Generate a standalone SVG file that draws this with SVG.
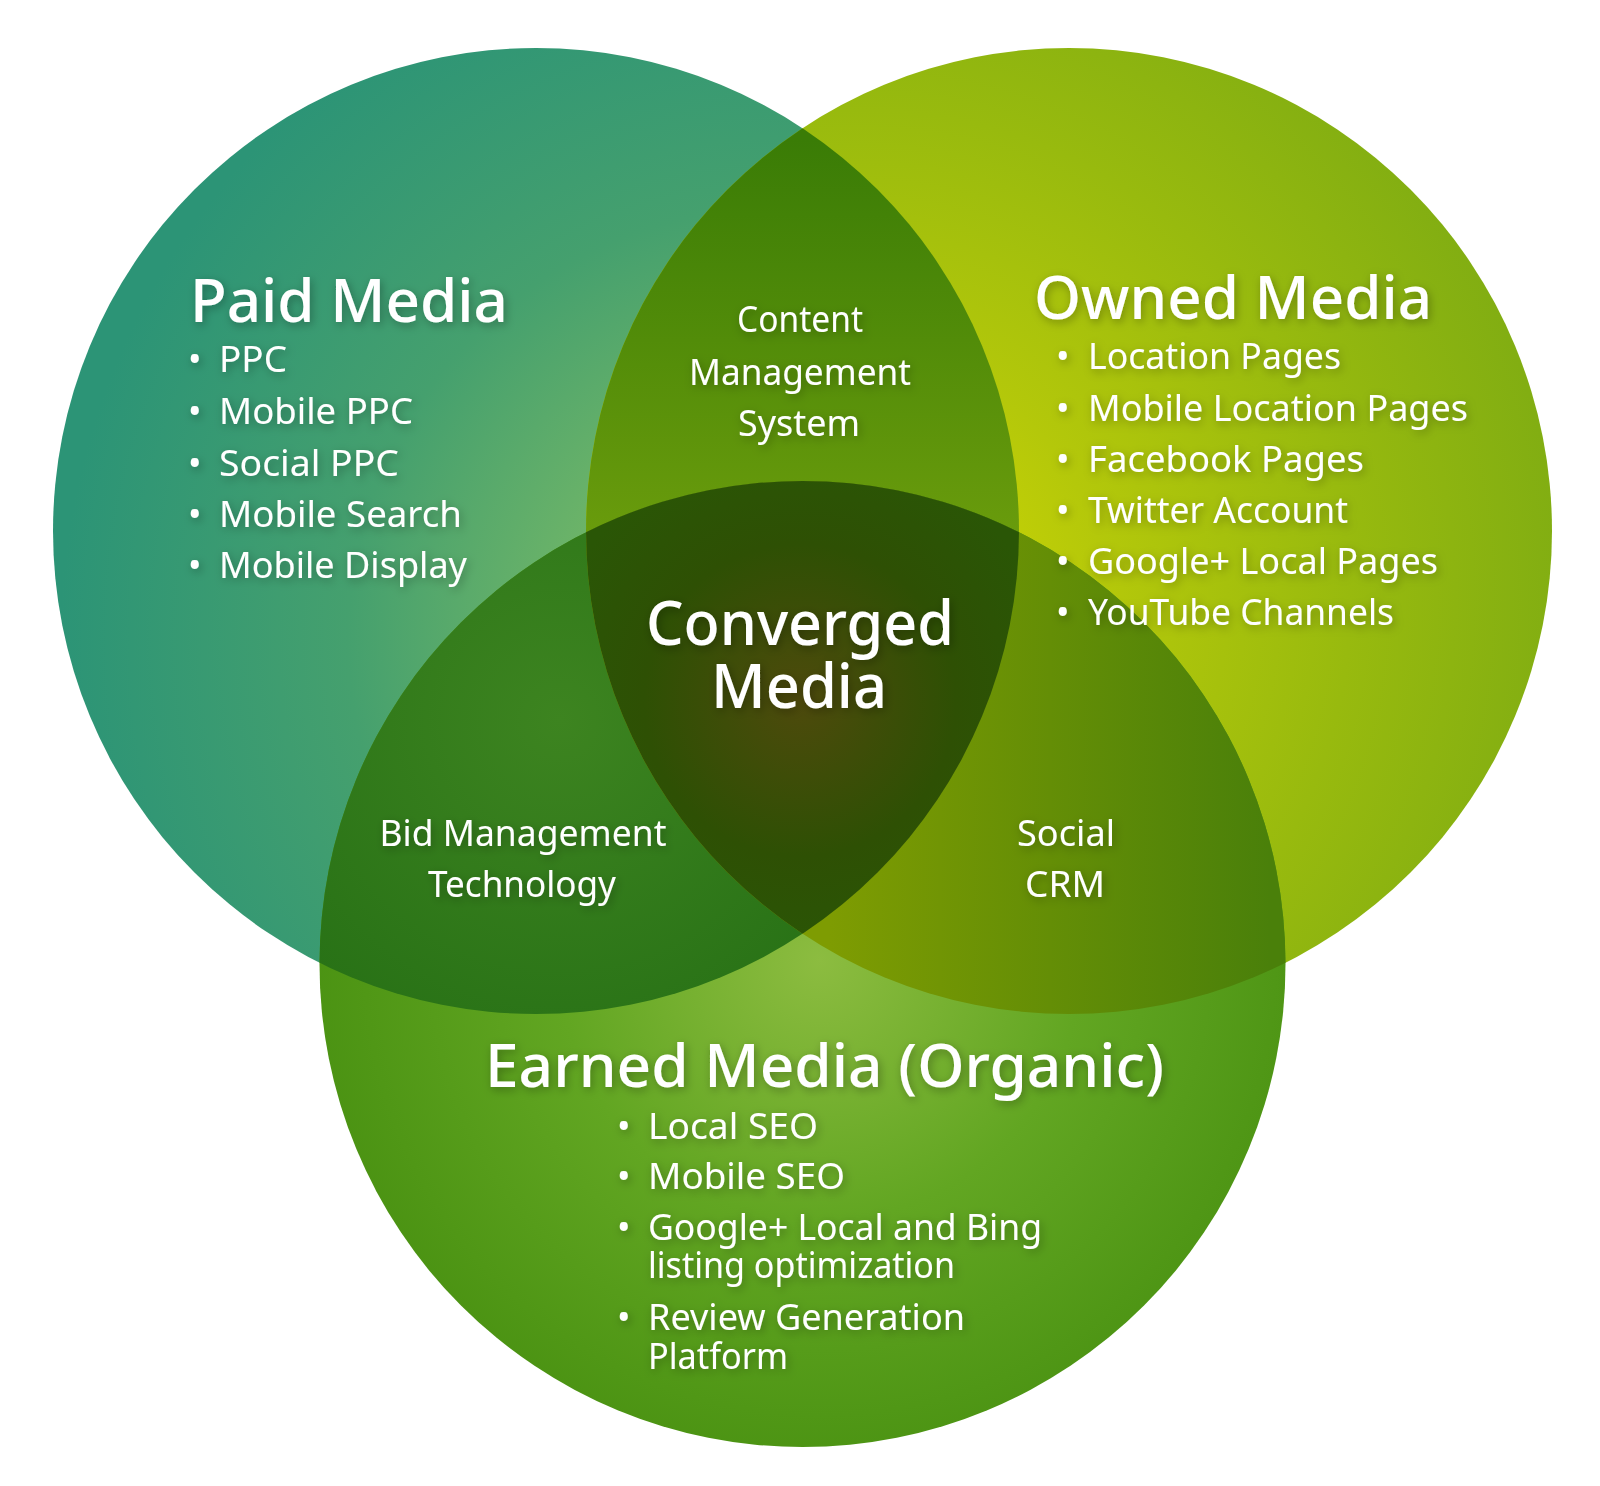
<svg xmlns="http://www.w3.org/2000/svg" width="1600" height="1486" viewBox="0 0 1600 1486">
<defs>
<style>
text{font-family:"Noto Sans","Open Sans","DejaVu Sans",sans-serif;fill:#ffffff}
.t{font-size:60px;font-weight:500}
.c{font-size:61px;font-weight:500}
.b{font-size:36px}
.m{font-size:36px;text-anchor:middle}
.txt{filter:url(#sh)}
</style>
<filter id="sh" x="-20%" y="-50%" width="140%" height="200%">
<feDropShadow dx="2" dy="3" stdDeviation="5" flood-color="#000" flood-opacity="0.3"/>
</filter>
<clipPath id="clipA"><circle cx="536" cy="531" r="483"/></clipPath>
<clipPath id="clipB"><circle cx="1069" cy="531" r="483"/></clipPath>
<radialGradient id="gA" gradientUnits="userSpaceOnUse" cx="780" cy="640" r="720">
<stop offset="0" stop-color="#8cc468"/>
<stop offset="0.3" stop-color="#6db468"/>
<stop offset="0.6" stop-color="#45a06e"/>
<stop offset="1" stop-color="#2c9476"/>
</radialGradient>
<radialGradient id="gB" gradientUnits="userSpaceOnUse" cx="860" cy="600" r="700">
<stop offset="0" stop-color="#d6da00"/>
<stop offset="0.35" stop-color="#b4c80a"/>
<stop offset="0.7" stop-color="#98ba0e"/>
<stop offset="1" stop-color="#82ae12"/>
</radialGradient>
<radialGradient id="gC" gradientUnits="userSpaceOnUse" cx="820" cy="960" r="520">
<stop offset="0" stop-color="#8cbc40"/>
<stop offset="0.5" stop-color="#62a622"/>
<stop offset="1" stop-color="#4a9212"/>
</radialGradient>
<linearGradient id="gAB" gradientUnits="userSpaceOnUse" x1="0" y1="140" x2="0" y2="540">
<stop offset="0" stop-color="#3a7c06"/>
<stop offset="1" stop-color="#6a9c0c"/>
</linearGradient>
<radialGradient id="gAC" gradientUnits="userSpaceOnUse" cx="560" cy="720" r="420">
<stop offset="0" stop-color="#3d8420"/>
<stop offset="1" stop-color="#246e14"/>
</radialGradient>
<linearGradient id="gBC" gradientUnits="userSpaceOnUse" x1="830" y1="0" x2="1270" y2="0">
<stop offset="0" stop-color="#7e9c02"/>
<stop offset="1" stop-color="#4a800a"/>
</linearGradient>
<radialGradient id="gCenter" gradientUnits="userSpaceOnUse" cx="800" cy="700" r="260">
<stop offset="0" stop-color="#4e4a0c"/>
<stop offset="0.6" stop-color="#2e5004"/>
<stop offset="1" stop-color="#2a5606"/>
</radialGradient>
</defs>
<rect width="1600" height="1486" fill="#ffffff"/>
<g id="shapes">
<circle id="circle-paid" cx="536" cy="531" r="483" fill="url(#gA)"/>
<circle id="circle-owned" cx="1069" cy="531" r="483" fill="url(#gB)"/>
<circle id="circle-earned" cx="802.5" cy="964" r="483" fill="url(#gC)"/>
<g id="lens-paid-owned" clip-path="url(#clipA)"><circle cx="1069" cy="531" r="483" fill="url(#gAB)"/></g>
<g id="lens-paid-earned" clip-path="url(#clipA)"><circle cx="802.5" cy="964" r="483" fill="url(#gAC)"/></g>
<g id="lens-owned-earned" clip-path="url(#clipB)"><circle cx="802.5" cy="964" r="483" fill="url(#gBC)"/></g>
<g id="center-region" clip-path="url(#clipA)"><g clip-path="url(#clipB)"><circle cx="802.5" cy="964" r="483" fill="url(#gCenter)"/></g></g>
</g>
<g id="connectors"/>
<g id="paid-media" class="txt">
<text class="t" x="190" y="322" textLength="318" lengthAdjust="spacingAndGlyphs">Paid Media</text>
<text class="b" x="188" y="372">•</text><text class="b" x="219" y="372" textLength="68" lengthAdjust="spacingAndGlyphs">PPC</text>
<text class="b" x="188" y="424">•</text><text class="b" x="219" y="424" textLength="194" lengthAdjust="spacingAndGlyphs">Mobile PPC</text>
<text class="b" x="188" y="475.5">•</text><text class="b" x="219" y="475.5" textLength="180" lengthAdjust="spacingAndGlyphs">Social PPC</text>
<text class="b" x="188" y="527">•</text><text class="b" x="219" y="527" textLength="243" lengthAdjust="spacingAndGlyphs">Mobile Search</text>
<text class="b" x="188" y="578">•</text><text class="b" x="219" y="578" textLength="248" lengthAdjust="spacingAndGlyphs">Mobile Display</text>
</g>
<g id="owned-media" class="txt">
<text class="t" x="1034" y="318.5" textLength="398" lengthAdjust="spacingAndGlyphs">Owned Media</text>
<text class="b" x="1056" y="369">•</text><text class="b" x="1088" y="369" textLength="253" lengthAdjust="spacingAndGlyphs">Location Pages</text>
<text class="b" x="1056" y="421">•</text><text class="b" x="1088" y="421" textLength="380" lengthAdjust="spacingAndGlyphs">Mobile Location Pages</text>
<text class="b" x="1056" y="471.5">•</text><text class="b" x="1088" y="471.5" textLength="276" lengthAdjust="spacingAndGlyphs">Facebook Pages</text>
<text class="b" x="1056" y="522.5">•</text><text class="b" x="1088" y="522.5" textLength="260" lengthAdjust="spacingAndGlyphs">Twitter Account</text>
<text class="b" x="1056" y="574">•</text><text class="b" x="1088" y="574" textLength="350" lengthAdjust="spacingAndGlyphs">Google+ Local Pages</text>
<text class="b" x="1056" y="624.5">•</text><text class="b" x="1088" y="624.5" textLength="306" lengthAdjust="spacingAndGlyphs">YouTube Channels</text>
</g>
<g id="content-management" class="txt">
<text class="m" x="800" y="332" textLength="126" lengthAdjust="spacingAndGlyphs">Content</text>
<text class="m" x="800" y="384.5" textLength="222" lengthAdjust="spacingAndGlyphs">Management</text>
<text class="m" x="799" y="435.5" textLength="122" lengthAdjust="spacingAndGlyphs">System</text>
</g>
<g id="converged-media" class="txt">
<text class="c" x="800" y="645" text-anchor="middle" textLength="308" lengthAdjust="spacingAndGlyphs">Converged</text>
<text class="c" x="799" y="708" text-anchor="middle" textLength="176" lengthAdjust="spacingAndGlyphs">Media</text>
</g>
<g id="bid-management" class="txt">
<text class="m" x="523" y="845.5" textLength="287" lengthAdjust="spacingAndGlyphs">Bid Management</text>
<text class="m" x="522" y="897" textLength="188" lengthAdjust="spacingAndGlyphs">Technology</text>
</g>
<g id="social-crm" class="txt">
<text class="m" x="1066" y="845.5" textLength="98" lengthAdjust="spacingAndGlyphs">Social</text>
<text class="m" x="1065" y="897" textLength="80" lengthAdjust="spacingAndGlyphs">CRM</text>
</g>
<g id="earned-media" class="txt">
<text class="t" x="485" y="1086.5" textLength="679" lengthAdjust="spacingAndGlyphs">Earned Media (Organic)</text>
<text class="b" x="617" y="1139">•</text><text class="b" x="648" y="1139" textLength="170" lengthAdjust="spacingAndGlyphs">Local SEO</text>
<text class="b" x="617" y="1189">•</text><text class="b" x="648" y="1189" textLength="197" lengthAdjust="spacingAndGlyphs">Mobile SEO</text>
<text class="b" x="617" y="1240">•</text><text class="b" x="648" y="1240" textLength="394" lengthAdjust="spacingAndGlyphs">Google+ Local and Bing</text>
<text class="b" x="648" y="1278" textLength="307" lengthAdjust="spacingAndGlyphs">listing optimization</text>
<text class="b" x="617" y="1330">•</text><text class="b" x="648" y="1330" textLength="317" lengthAdjust="spacingAndGlyphs">Review Generation</text>
<text class="b" x="648" y="1368.5" textLength="140" lengthAdjust="spacingAndGlyphs">Platform</text>
</g>
</svg>
